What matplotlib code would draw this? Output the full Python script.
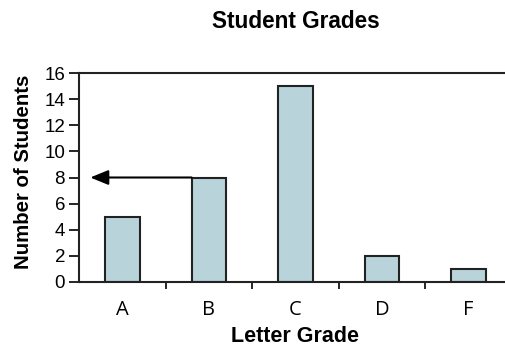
import numpy as np
import matplotlib.pyplot as plt

grades = ["A", "B", "C", "D", "F"]
students = [5, 8, 15, 2, 1]
y_ticks = [0, 2, 4, 6, 8, 10, 12, 14, 16]

plt.rcParams["font.family"] = ["Liberation Sans", "DejaVu Sans"]

fig = plt.figure(figsize=(5.06, 3.48), dpi=100)
# axes runs a little past the right edge of the figure
ax = fig.add_axes([79 / 506, 1 - 282 / 348, (512 - 79) / 506, (282 - 73) / 348])

x = np.arange(len(grades))
ax.bar(x, students, width=0.4, color="#b8d4da", edgecolor="#222222", linewidth=1.5)

ax.set_xlim(-0.5, len(grades) - 0.5)
ax.set_ylim(0, 16)
ax.set_yticks(y_ticks)
ax.set_xticks(x)
ax.set_xticklabels(grades, fontsize=14.5, family=["Open Sans", "DejaVu Sans"])
ax.set_xticks(x[:-1] + 0.5, minor=True)
ax.tick_params(axis="x", which="major", length=0, pad=13)
ax.tick_params(axis="x", which="minor", length=5, width=1.2, direction="out")
ax.tick_params(axis="y", length=7, width=1.2, labelsize=13.5, pad=3)

for side in ["left", "bottom", "top"]:
    ax.spines[side].set_linewidth(1.5)
    ax.spines[side].set_color("#222222")
ax.spines["right"].set_visible(False)

# arrow from the B bar back to the axis at its value
ax.annotate("", xy=(-0.37, students[1]), xytext=(1 - 0.2, students[1]),
            arrowprops=dict(arrowstyle="-|>,head_length=1.1,head_width=0.45",
                            color="black", lw=1.5, shrinkA=0, shrinkB=0))

ax.set_xlabel("Letter Grade", fontsize=15.5, fontweight="bold", va="center")
ax.xaxis.set_label_coords(0.5, (282 - 337) / 209)
ax.set_ylabel("Number of Students", fontsize=14.7, fontweight="bold", va="center")
ax.yaxis.set_label_coords((24 - 79) / 433, (282 - 171.5) / 209)
fig.text(296 / 506, 1 - 22 / 348, "Student Grades", fontsize=16.3, fontweight="bold",
         ha="center", va="center")

fig.savefig("out.png", dpi=100)
